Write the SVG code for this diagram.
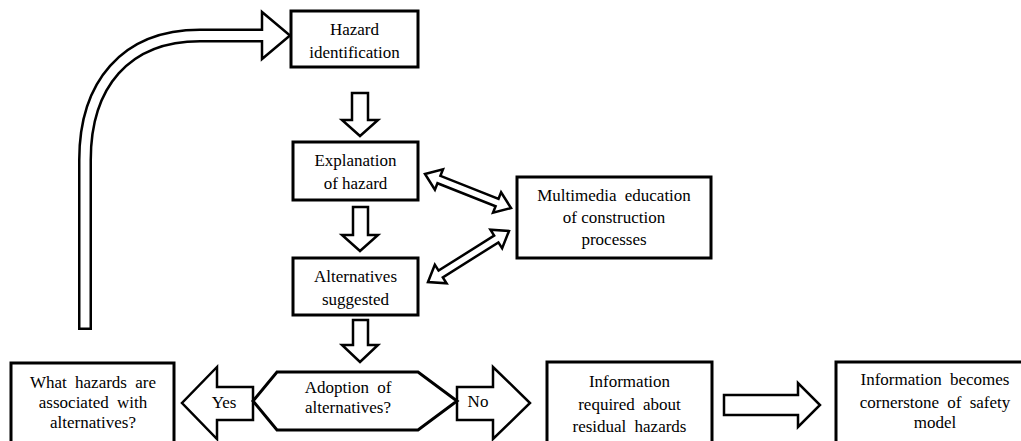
<svg xmlns="http://www.w3.org/2000/svg" width="1021" height="441" viewBox="0 0 1021 441">
<style>
.box{fill:#fff;stroke:#000;stroke-width:3}
.arr{fill:#fff;stroke:#000;stroke-width:2.5;stroke-linejoin:miter}
text{font-family:'Liberation Serif','Times New Roman',Tinos,'Nimbus Roman','Noto Serif','DejaVu Serif',FreeSerif,serif;font-size:17px;fill:#000;text-anchor:middle}
.ws{word-spacing:4px}
</style>
<rect width="1021" height="441" fill="#fff"/>
<g id="connectors">
  <path d="M85,330 L85,160 C85,85 125,35.5 200,35.5 L262,35.5" fill="none" stroke="#000" stroke-width="14"/>
  <polygon class="arr" points="262,12 290,35.5 262,59"/>
  <path d="M85,327.5 L85,160 C85,85 125,35.5 200,35.5 L264.5,35.5" fill="none" stroke="#fff" stroke-width="9"/>
  <polygon class="arr" points="352,93 368,93 368,120 378,120 360,136 342,120 352,120"/>
  <polygon class="arr" points="353,207 368,207 368,235 378,235 360,251 342,235 353,235"/>
  <polygon class="arr" points="353,320 368,320 368,345 378,345 360,362 342,345 353,345"/>
  <path class="arr" transform="translate(425,174) rotate(21.6)" d="M0,0 L15,-11 L15,-4 L77.5,-4 L77.5,-11 L92.5,0 L77.5,11 L77.5,4 L15,4 L15,11 Z"/>
  <path class="arr" transform="translate(428,282) rotate(-32.2)" d="M0,0 L15,-11 L15,-4 L80.7,-4 L80.7,-11 L95.7,0 L80.7,11 L80.7,4 L15,4 L15,11 Z"/>
  <polygon class="arr" points="253,387 217,387 217,367 182,403 217,439 217,420 253,420"/>
  <polygon class="arr" points="457,387 493,387 493,367 530,403 493,439 493,420 457,420"/>
  <polygon class="arr" points="724,395 798,395 798,383 820,405 798,427 798,415 724,415"/>
  <text x="224" y="408">Yes</text>
  <text x="478" y="407">No</text>
</g>
<g id="hazard-identification">
  <rect class="box" x="291" y="11" width="127" height="56"/>
  <text x="354.5" y="35">Hazard</text>
  <text x="354.5" y="58">identification</text>
</g>
<g id="explanation">
  <rect class="box" x="293" y="142" width="125" height="58"/>
  <text x="355.5" y="166">Explanation</text>
  <text x="355.5" y="189">of hazard</text>
</g>
<g id="alternatives">
  <rect class="box" x="293" y="258" width="125" height="57"/>
  <text x="355.5" y="282">Alternatives</text>
  <text x="355.5" y="305">suggested</text>
</g>
<g id="multimedia">
  <rect class="box" x="517" y="177" width="194" height="81"/>
  <text class="ws" x="614" y="201">Multimedia education</text>
  <text x="614" y="223">of construction</text>
  <text x="614" y="245">processes</text>
</g>
<g id="adoption">
  <polygon class="box" points="253,401 277,372 418,372 457,401 418,430 277,430"/>
  <text class="ws" x="348" y="393">Adoption of</text>
  <text x="348" y="413">alternatives?</text>
</g>
<g id="what-hazards">
  <rect class="box" x="11" y="363" width="163" height="90"/>
  <text class="ws" x="93" y="388">What hazards are</text>
  <text class="ws" x="93" y="408">associated with</text>
  <text x="93" y="428">alternatives?</text>
</g>
<g id="information-required">
  <rect class="box" x="547" y="362" width="165" height="90"/>
  <text x="629.5" y="387">Information</text>
  <text class="ws" x="629.5" y="410">required about</text>
  <text class="ws" x="629.5" y="432">residual hazards</text>
</g>
<g id="information-becomes">
  <rect class="box" x="836" y="362" width="190" height="90"/>
  <text class="ws" x="935" y="385">Information becomes</text>
  <text class="ws" x="935" y="408">cornerstone of safety</text>
  <text x="935" y="428">model</text>
</g>
</svg>
